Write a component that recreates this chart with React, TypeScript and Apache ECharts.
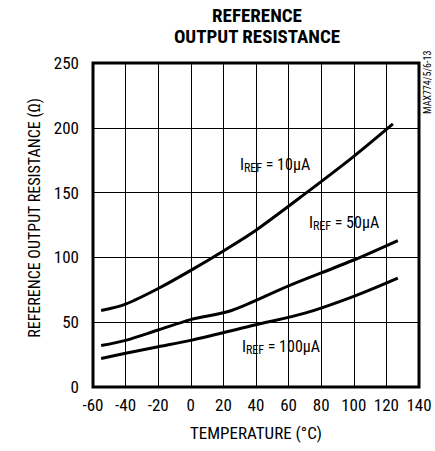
import React, { useEffect, useRef } from "react";
import * as echarts from "echarts";

const xTicks = [-60, -40, -20, 0, 20, 40, 60, 80, 100, 120, 140];
const yTicks = [0, 50, 100, 150, 200, 250];

const curve10uA: [number, number][] = [
  [-55, 59], [-40, 64], [-20, 76], [0, 90], [20, 105], [40, 121], [70, 149], [100, 178], [124, 203],
];
const curve50uA: [number, number][] = [
  [-55, 32], [-40, 36], [-20, 44], [0, 52], [25, 59], [60, 78], [100, 98], [127, 113],
];
const curve100uA: [number, number][] = [
  [-55, 22], [-40, 26], [-20, 31], [0, 36], [40, 48], [70, 57], [100, 70], [127, 84],
];

const FONT = "'Roboto Condensed', 'Liberation Sans Narrow', sans-serif";

const curveLabel = (text: string, x: number, y: number) => ({
  type: "text",
  left: x,
  top: y,
  style: {
    text: `{a|I}{b|REF}{a| = ${text}}`,
    rich: {
      a: { fontFamily: FONT, fontSize: 16, fill: "#000", lineHeight: 18 },
      b: { fontFamily: FONT, fontSize: 12, fill: "#000", padding: [7, 0, 0, 0], lineHeight: 18 },
    },
  },
});

export default function App() {
  const ref = useRef<HTMLDivElement>(null);
  useEffect(() => {
    if (!ref.current) return;
    const chart = echarts.init(ref.current, null, { renderer: "svg" });
    const lineSeries = (name: string, data: [number, number][]) => ({
      name,
      type: "line",
      data,
      smooth: 0.3,
      symbol: "none",
      lineStyle: { color: "#000", width: 3 },
    });
    chart.setOption({
      animation: false,
      backgroundColor: "#fff",
      textStyle: { fontFamily: FONT },
      grid: {
        left: 93,
        right: 16,
        top: 63,
        bottom: 64,
        show: true,
        borderColor: "#000",
        borderWidth: 3,
        containLabel: false,
      },
      xAxis: {
        type: "value",
        min: xTicks[0],
        max: xTicks[xTicks.length - 1],
        interval: 20,
        name: "TEMPERATURE (°C)",
        nameLocation: "middle",
        nameGap: 37,
        nameTextStyle: { fontFamily: FONT, fontSize: 17, color: "#000" },
        axisLine: { show: false },
        axisTick: { show: false },
        axisLabel: { fontFamily: FONT, fontSize: 17, color: "#000", margin: 9 },
        splitLine: { show: true, lineStyle: { color: "#000", width: 1 } },
      },
      yAxis: {
        type: "value",
        min: yTicks[0],
        max: yTicks[yTicks.length - 1],
        interval: 50,
        name: "REFERENCE OUTPUT RESISTANCE (Ω)",
        nameLocation: "middle",
        nameGap: 50,
        nameTextStyle: { fontFamily: FONT, fontSize: 16, color: "#000", padding: [0, 0, 0, 14] },
        axisLine: { show: false },
        axisTick: { show: false },
        axisLabel: { fontFamily: FONT, fontSize: 17, color: "#000", margin: 14 },
        splitLine: { show: true, lineStyle: { color: "#000", width: 1 } },
      },
      series: [
        lineSeries("IREF = 10µA", curve10uA),
        lineSeries("IREF = 50µA", curve50uA),
        lineSeries("IREF = 100µA", curve100uA),
      ],
      graphic: [
        {
          type: "text",
          x: 257,
          y: 5,
          style: {
            text: "REFERENCE\nOUTPUT RESISTANCE",
            fontFamily: FONT,
            fontWeight: "bold",
            fontSize: 19,
            lineHeight: 21,
            align: "center",
            fill: "#000",
          },
        },
        {
          type: "text",
          x: 427,
          y: 114,
          rotation: Math.PI / 2,
          style: {
            text: "MAX774/5/6-13",
            fontFamily: FONT,
            fontSize: 10,
            align: "left",
            verticalAlign: "middle",
            fill: "#000",
          },
        },
        curveLabel("10µA", 240, 155),
        curveLabel("50µA", 309, 213),
        curveLabel("100µA", 242, 337),
      ],
    });
    return () => chart.dispose();
  }, []);
  return (
    <div
      ref={ref}
      style={{ position: "absolute", left: 0, top: 0, width: 435, height: 451 }}
    />
  );
}
